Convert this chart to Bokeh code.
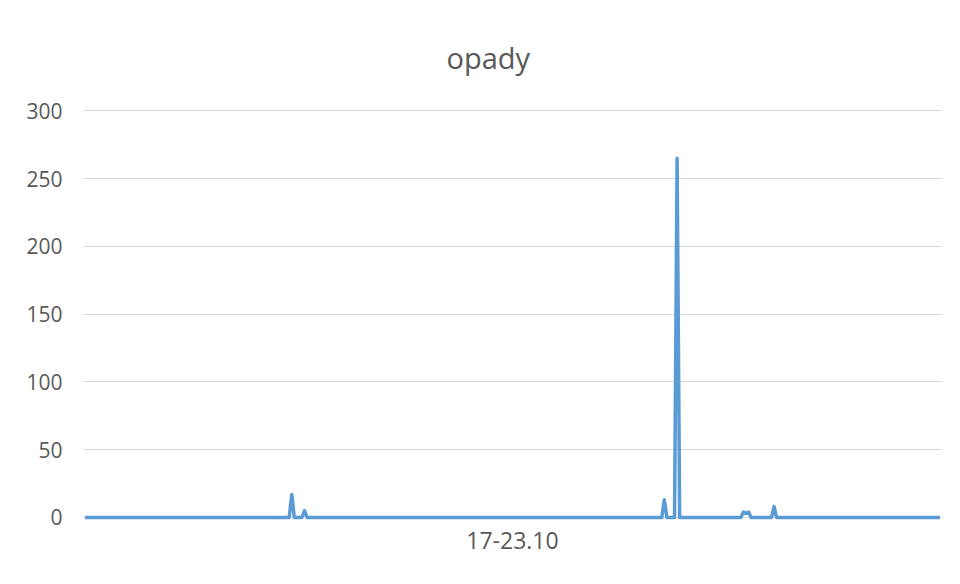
from bokeh.plotting import figure
from bokeh.models import FixedTicker, Range1d, ColumnDataSource
from bokeh.embed import file_html
from bokeh.resources import INLINE

# Half-hourly rainfall readings for 17-23.10 (7 days x 48 readings)
n_readings = 336
# non-zero readings (index of half-hour slot, value in mm); all other slots read 0
rain_slots = [81, 86, 227, 232, 258, 259, 260, 270]
rain_values = [17, 5, 13, 265, 4, 3, 4, 8]

y_ticks = [0, 50, 100, 150, 200, 250, 300]
period_label = "17-23.10"
title_text = "opady"

series = [0] * n_readings
for slot, val in zip(rain_slots, rain_values):
    series[slot] = val

src = ColumnDataSource(dict(x=list(range(n_readings)), y=series))

TXT = "#595959"
FONT = "Open Sans"

p = figure(width=952, height=576, output_backend="svg", toolbar_location=None,
           min_border_left=82, min_border_right=10, min_border_top=109, min_border_bottom=55,
           x_range=Range1d(-1, n_readings), y_range=Range1d(-3, 301))

p.line("x", "y", source=src, line_color="#5B9BD5", line_width=3.5, line_join="round")

p.title.text = title_text
p.title.align = "left"
p.title.offset = 364
p.title.text_font = FONT
p.title.text_font_size = "29px"
p.title.text_font_style = "normal"
p.title.text_color = TXT
p.title.standoff = 66

p.outline_line_color = None
p.background_fill_color = "white"
p.border_fill_color = "white"

p.xgrid.grid_line_color = None
p.ygrid.grid_line_color = "#d9d9d9"
p.ygrid.grid_line_width = 1

p.yaxis.ticker = FixedTicker(ticks=y_ticks)
p.yaxis.axis_line_color = None
p.yaxis.major_tick_line_color = None
p.yaxis.minor_tick_line_color = None
p.yaxis.major_label_standoff = 14
p.yaxis.major_label_text_font = FONT
p.yaxis.major_label_text_font_size = "21px"
p.yaxis.major_label_text_color = TXT

mid = (n_readings - 1) / 2
p.xaxis.ticker = FixedTicker(ticks=[mid])
p.xaxis.major_label_overrides = {mid: period_label}
p.xaxis.axis_line_color = None
p.xaxis.major_tick_line_color = None
p.xaxis.minor_tick_line_color = None
p.xaxis.major_label_standoff = 4
p.xaxis.major_label_text_font = FONT
p.xaxis.major_label_text_font_size = "23px"
p.xaxis.major_label_text_color = TXT

open("out.html", "w").write(file_html(p, INLINE))
